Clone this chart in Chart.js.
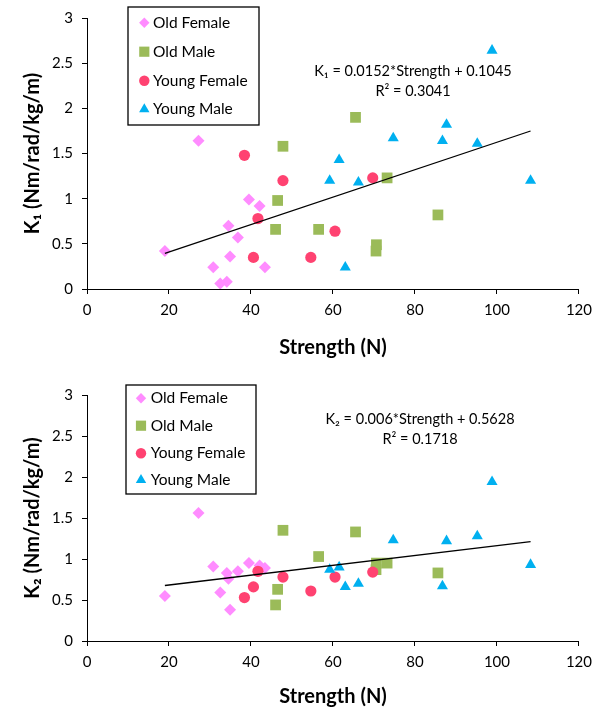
<!DOCTYPE html>
<html>
<head>
<meta charset="utf-8">
<script src="https://cdn.jsdelivr.net/npm/chart.js@4.4.1/dist/chart.umd.min.js"></script>
<style>
  body { margin: 0; background: #fff; }
  .panel { position: absolute; left: 0; width: 599px; }
</style>
</head>
<body>
<div class="panel" style="top:0;height:365px"><canvas id="k1Chart"></canvas></div>
<div class="panel" style="top:365px;height:344px"><canvas id="k2Chart"></canvas></div>
<script>
// Strength (N) per subject, same subjects in both panels
const oldFemaleStrength = [19, 27.2, 30.8, 32.5, 34.1, 34.5, 34.9, 36.8, 39.5, 42.1, 43.4];
const oldMaleStrength = [47.8, 46.5, 46, 56.5, 65.5, 73.2, 85.6, 70.6, 70.5];
const youngFemaleStrength = [38.4, 47.8, 41.7, 40.6, 54.6, 60.5, 69.7];
const youngMaleStrength = [61.5, 59.2, 66.2, 63, 74.7, 87.7, 86.7, 95.2, 98.8, 108.2];

// K1 (Nm/rad/kg/m)
const oldFemaleK1 = [0.42, 1.64, 0.24, 0.06, 0.08, 0.70, 0.36, 0.57, 0.99, 0.92, 0.24];
const oldMaleK1 = [1.58, 0.98, 0.66, 0.66, 1.90, 1.23, 0.82, 0.49, 0.42];
const youngFemaleK1 = [1.48, 1.20, 0.78, 0.35, 0.35, 0.64, 1.23];
const youngMaleK1 = [1.43, 1.20, 1.18, 0.24, 1.67, 1.82, 1.64, 1.61, 2.64, 1.20];

// K2 (Nm/rad/kg/m)
const oldFemaleK2 = [0.55, 1.56, 0.91, 0.59, 0.83, 0.76, 0.38, 0.85, 0.95, 0.92, 0.89];
const oldMaleK2 = [1.35, 0.63, 0.44, 1.03, 1.33, 0.95, 0.83, 0.95, 0.87];
const youngFemaleK2 = [0.53, 0.78, 0.85, 0.66, 0.61, 0.78, 0.84];
const youngMaleK2 = [0.90, 0.87, 0.70, 0.66, 1.23, 1.22, 0.67, 1.28, 1.94, 0.93];

// linear fits
const k1Fit = [0.0152, 0.1045];
const k2Fit = [0.006, 0.5628];

const groupNames = ['Old Female', 'Old Male', 'Young Female', 'Young Male'];
const xTicks = [0, 120, 20];   // min, max, step
const yTicks = [0, 3, 0.5];

const FONT = 'Lato, "DejaVu Sans", sans-serif';
const groupStyles = [
  { color: '#ff8cff', shape: 'rectRot', r: 6, lr: 5.2 },
  { color: '#9bbb59', shape: 'rect', r: 7.6, lr: 7.2 },
  { color: '#ff4271', shape: 'circle', r: 5.6, lr: 5.2 },
  { color: '#00b0f0', shape: 'triangle', r: 6.4, lr: 6 },
];

const allStrength = [].concat(oldFemaleStrength, oldMaleStrength, youngFemaleStrength, youngMaleStrength);
const minStrength = Math.min(...allStrength);
const maxStrength = Math.max(...allStrength);

const toPoints = (xs, ys) => xs.map((x, i) => ({ x: x, y: ys[i] }));

// legend box + fit equation drawn over the plot
const overlayPlugin = {
  id: 'overlay',
  afterDraw(chart) {
    const o = chart.options.plugins.overlay;
    const ctx = chart.ctx;
    ctx.save();
    // legend
    const b = o.box;
    ctx.fillStyle = '#fff';
    ctx.fillRect(b[0], b[1], b[2] - b[0], b[3] - b[1]);
    ctx.strokeStyle = '#000';
    ctx.lineWidth = 1.3;
    ctx.strokeRect(b[0], b[1], b[2] - b[0], b[3] - b[1]);
    ctx.font = '15.5px ' + FONT;
    ctx.textBaseline = 'middle';
    ctx.textAlign = 'left';
    groupNames.forEach((name, i) => {
      const s = groupStyles[i];
      const y = o.rows[i];
      ctx.fillStyle = s.color;
      Chart.helpers.drawPoint(ctx, { pointStyle: s.shape, radius: s.lr, rotation: 0, borderWidth: 0 }, o.markerX, y);
      ctx.fillStyle = '#000';
      ctx.fillText(name, o.textX, y);
    });
    // equation
    ctx.textAlign = 'center';
    ctx.font = '14.5px ' + FONT;
    o.equation.forEach((line, i) => ctx.fillText(line, o.eqX, o.eqY[i]));
    ctx.restore();
  }
};

function makeChart(id, ys, fit, yLabel, geo) {
  const datasets = groupNames.map((name, i) => ({
    label: name,
    data: toPoints([oldFemaleStrength, oldMaleStrength, youngFemaleStrength, youngMaleStrength][i], ys[i]),
    pointStyle: groupStyles[i].shape,
    pointRadius: groupStyles[i].r,
    backgroundColor: groupStyles[i].color,
    borderWidth: 0,
    order: 4 - i,
  }));
  datasets.push({
    label: 'fit',
    data: [minStrength, maxStrength].map(x => ({ x: x, y: fit[0] * x + fit[1] })),
    showLine: true,
    borderColor: '#000',
    borderWidth: 1.3,
    pointRadius: 0,
    order: 0,
  });

  const tickFont = { family: FONT, size: 15 };
  const titleFont = { family: FONT, size: 20, weight: 'bold' };

  return new Chart(document.getElementById(id), {
    type: 'scatter',
    data: { datasets: datasets },
    options: {
      responsive: true,
      maintainAspectRatio: false,
      animation: false,
      layout: { padding: { top: geo.top, right: 16, left: 0, bottom: 0 } },
      plugins: {
        legend: { display: false },
        tooltip: { enabled: false },
        overlay: geo.overlay,
      },
      scales: {
        x: {
          type: 'linear', min: xTicks[0], max: xTicks[1],
          ticks: { stepSize: xTicks[2], color: '#000', font: tickFont, padding: 7, maxRotation: 0 },
          grid: { drawOnChartArea: false, color: '#000', tickLength: 5 },
          border: { color: '#000', width: 1 },
          title: { display: true, text: 'Strength (N)', color: '#000', font: titleFont, padding: { top: 0, bottom: geo.xTitlePad } },
          afterFit: (s) => { s.height = geo.xHeight; },
        },
        y: {
          type: 'linear', min: yTicks[0], max: yTicks[1],
          ticks: { stepSize: yTicks[2], color: '#000', font: tickFont, padding: 9, callback: (v) => String(v) },
          grid: { drawOnChartArea: false, color: '#000', tickLength: 5 },
          border: { color: '#000', width: 1 },
          title: { display: true, text: yLabel, color: '#000', font: titleFont, padding: { top: 21, bottom: 0 } },
          afterFit: (s) => { s.width = 87; },
        },
      },
    },
    plugins: [overlayPlugin],
  });
}

makeChart('k1Chart', [oldFemaleK1, oldMaleK1, youngFemaleK1, youngMaleK1], k1Fit,
  'K\u2081 (Nm/rad/kg/m)',
  {
    top: 17, xHeight: 76, xTitlePad: 5,
    overlay: {
      box: [128, 7, 259, 125], rows: [22.7, 51.7, 80.7, 109.3], markerX: 144.3, textX: 153,
      equation: ['K\u2081 = ' + k1Fit[0] + '*Strength + ' + k1Fit[1], 'R\u00b2 = 0.3041'],
      eqX: 413, eqY: [71, 91],
    },
  });

makeChart('k2Chart', [oldFemaleK2, oldMaleK2, youngFemaleK2, youngMaleK2], k2Fit,
  'K\u2082 (Nm/rad/kg/m)',
  {
    top: 30, xHeight: 68, xTitlePad: 0,
    overlay: {
      box: [126, 20, 256, 129], rows: [33.3, 60.7, 88.3, 115], markerX: 141, textX: 150.7,
      equation: ['K\u2082 = ' + k2Fit[0] + '*Strength + ' + k2Fit[1], 'R\u00b2 = 0.1718'],
      eqX: 420, eqY: [54, 74],
    },
  });
</script>
</body>
</html>
